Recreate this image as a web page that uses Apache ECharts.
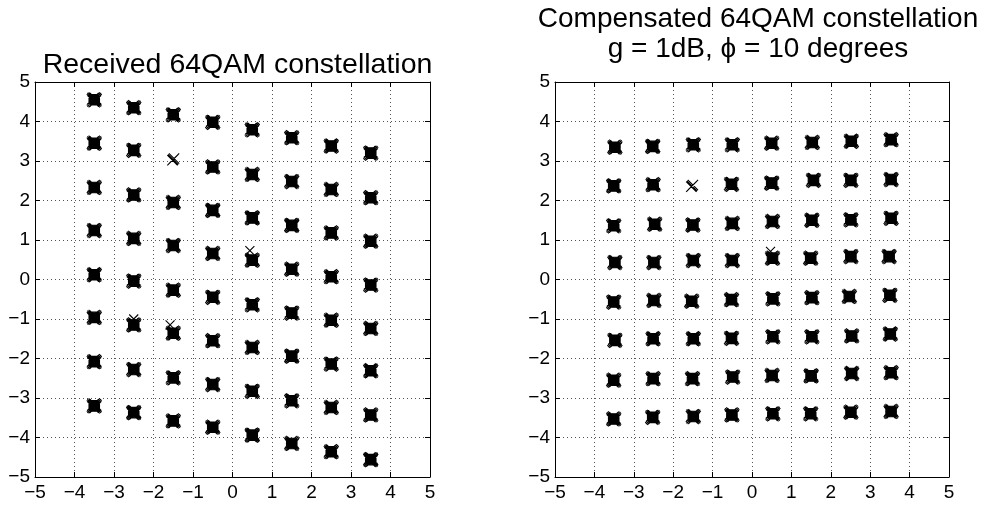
<!DOCTYPE html>
<html>
<head>
<meta charset="utf-8">
<script src="https://cdn.jsdelivr.net/npm/echarts@6/dist/echarts.min.js"></script>
<style>
  html, body { margin: 0; padding: 0; background: #fff; }
  #chart { width: 987px; height: 508px; }
</style>
</head>
<body>
<div id="chart"></div>
<script>
// Axis ticks shared by both panels
const tickValues = [-5, -4, -3, -2, -1, 0, 1, 2, 3, 4, 5];

// Received constellation: in-phase column positions and the quadrature
// value of each cluster in that column (top to bottom)
const leftI = [-3.5, -2.5, -1.5, -0.5, 0.5, 1.5, 2.5, 3.5];
const leftQ = [
  [4.55, 3.45, 2.33, 1.24, 0.12, -0.96, -2.08, -3.20],
  [4.35, 3.27, 2.14, 1.04, -0.04, -1.15, -2.28, -3.37],
  [4.17, 3.04, 1.95, 0.86, -0.27, -1.36, -2.49, -3.58],
  [3.98, 2.85, 1.75, 0.66, -0.45, -1.55, -2.66, -3.74],
  [3.79, 2.66, 1.56, 0.49, -0.64, -1.72, -2.83, -3.94],
  [3.59, 2.48, 1.37, 0.26, -0.85, -1.94, -3.07, -4.15],
  [3.38, 2.28, 1.18, 0.07, -1.03, -2.14, -3.24, -4.36],
  [3.20, 2.07, 0.97, -0.14, -1.24, -2.31, -3.43, -4.56]
];
// clusters with only a few samples: [column, row]
const leftSparse = [[2, 1]];
// isolated samples away from their cluster
const leftStrays = [[0.44, 0.73], [-1.58, -1.15], [-2.50, -1.00]];

// Compensated constellation, rows top to bottom, columns left to right
const rightI = [
  [-3.48, -2.52, -1.49, -0.50, 0.50, 1.53, 2.52, 3.53],
  [-3.51, -2.51, -1.52, -0.52, 0.50, 1.56, 2.51, 3.53],
  [-3.51, -2.47, -1.50, -0.50, 0.52, 1.52, 2.51, 3.53],
  [-3.48, -2.49, -1.49, -0.50, 0.52, 1.49, 2.51, 3.48],
  [-3.51, -2.49, -1.53, -0.52, 0.53, 1.52, 2.47, 3.50],
  [-3.48, -2.51, -1.49, -0.52, 0.53, 1.52, 2.53, 3.51],
  [-3.51, -2.51, -1.51, -0.49, 0.51, 1.50, 2.53, 3.53],
  [-3.51, -2.52, -1.49, -0.51, 0.53, 1.49, 2.51, 3.53]
];
const rightQ = [
  [3.35, 3.37, 3.41, 3.41, 3.45, 3.47, 3.50, 3.54],
  [2.37, 2.40, 2.37, 2.41, 2.44, 2.51, 2.51, 2.53],
  [1.36, 1.40, 1.38, 1.42, 1.47, 1.50, 1.51, 1.55],
  [0.43, 0.43, 0.48, 0.48, 0.54, 0.54, 0.58, 0.58],
  [-0.57, -0.53, -0.55, -0.51, -0.49, -0.46, -0.43, -0.40],
  [-1.54, -1.50, -1.50, -1.49, -1.45, -1.45, -1.43, -1.38],
  [-2.55, -2.51, -2.51, -2.47, -2.43, -2.44, -2.38, -2.36],
  [-3.53, -3.49, -3.47, -3.43, -3.40, -3.40, -3.36, -3.34]
];
// clusters with only a few samples: [row, column]
const rightSparse = [[1, 2]];
const rightStrays = [[0.47, 0.71]];

const leftTitle = 'Received 64QAM constellation';
const rightTitle = 'Compensated 64QAM constellation\ng = 1dB, \u03D5 = 10 degrees';

// ---- marker shapes: a pile of overlapping "x" marks ----
function xPath(offsets, half, core) {
  let d = '';
  const c = 8;
  offsets.forEach(([dx, dy]) => {
    const x = c + dx, y = c + dy;
    d += `M${x - half} ${y - half}L${x + half} ${y + half}M${x + half} ${y - half}L${x - half} ${y + half}`;
  });
  if (core) {
    d += 'M5.4 3.8H10.6L12.2 5.4V10.6L10.6 12.2H5.4L3.8 10.6V5.4Z';
  }
  return 'path://' + d;
}
const denseSymbol = xPath([[0, 0], [-1, -1], [1, 1], [-1, 1], [1, -1], [0, -1.5], [0, 1.5], [-1.5, 0], [1.5, 0], [0.5, -0.5], [-0.5, 0.5]], 4.5, true);
const sparseSymbol = xPath([[0, 0], [0.8, -0.8], [-0.6, 0.7]], 4.5, false);
const singleSymbol = xPath([[0, 0]], 4.5, false);

function isIn(list, a, b) {
  return list.some(p => p[0] === a && p[1] === b);
}

const leftData = [];
leftI.forEach((x, c) => {
  leftQ[c].forEach((y, r) => {
    const sparse = isIn(leftSparse, c, r);
    leftData.push({
      value: [x, y],
      symbol: sparse ? sparseSymbol : denseSymbol,
      symbolSize: sparse ? 12 : 15
    });
  });
});
leftStrays.forEach(p => leftData.push({ value: p, symbol: singleSymbol, symbolSize: 9 }));

const rightData = [];
rightI.forEach((row, r) => {
  row.forEach((x, c) => {
    const sparse = isIn(rightSparse, r, c);
    rightData.push({
      value: [x, rightQ[r][c]],
      symbol: sparse ? sparseSymbol : denseSymbol,
      symbolSize: sparse ? 12 : 15
    });
  });
});
rightStrays.forEach(p => rightData.push({ value: p, symbol: singleSymbol, symbolSize: 9 }));

// ---- axes ----
const FONT = '"Liberation Sans", Arial, Helvetica, sans-serif';
const fmt = v => (v < 0 ? '\u2212' + Math.abs(v) : String(v));
const lo = tickValues[0], hi = tickValues[tickValues.length - 1];
const step = tickValues[1] - tickValues[0];

function valueAxis(gridIndex, position, labels, grid) {
  return {
    type: 'value', gridIndex, position,
    min: lo, max: hi, interval: step,
    axisLine: { show: true, onZero: false, lineStyle: { color: '#000', width: 1 } },
    axisTick: { show: true, inside: true, length: 5, lineStyle: { color: '#000', width: 1 } },
    axisLabel: {
      show: labels, formatter: fmt, color: '#000',
      fontFamily: FONT, fontSize: 19, margin: position === 'left' ? 5 : 6
    },
    splitLine: {
      show: grid,
      lineStyle: { color: '#555', width: 1, type: [1, 3] }
    }
  };
}

const grids = [
  { left: 35, top: 82, width: 395, height: 395 },
  { left: 555, top: 82, width: 394, height: 395 }
];

const titleStyle = size => ({ fontFamily: FONT, fontSize: size, fontWeight: 'normal', color: '#000', lineHeight: 30 });

const option = {
  backgroundColor: '#fff',
  animation: false,
  title: [
    { text: leftTitle, left: 232.5, top: 45, textAlign: 'center', textStyle: titleStyle(28.5) },
    { text: rightTitle, left: 753, top: -1, textAlign: 'center', textStyle: titleStyle(28) }
  ],
  grid: grids.map(g => Object.assign({ show: false, containLabel: false }, g)),
  xAxis: [
    valueAxis(0, 'bottom', true, true),
    valueAxis(0, 'top', false, false),
    valueAxis(1, 'bottom', true, true),
    valueAxis(1, 'top', false, false)
  ],
  yAxis: [
    valueAxis(0, 'left', true, true),
    valueAxis(0, 'right', false, false),
    valueAxis(1, 'left', true, true),
    valueAxis(1, 'right', false, false)
  ],
  series: [
    {
      type: 'scatter', xAxisIndex: 0, yAxisIndex: 0, data: leftData,
      symbolKeepAspect: true,
      itemStyle: { color: '#000', borderColor: '#000', borderWidth: 1.1, opacity: 1 },
      emphasis: { disabled: true }
    },
    {
      type: 'scatter', xAxisIndex: 2, yAxisIndex: 2, data: rightData,
      symbolKeepAspect: true,
      itemStyle: { color: '#000', borderColor: '#000', borderWidth: 1.1, opacity: 1 },
      emphasis: { disabled: true }
    }
  ]
};

const chart = echarts.init(document.getElementById('chart'), null, { renderer: 'canvas' });
chart.setOption(option);
</script>
</body>
</html>
